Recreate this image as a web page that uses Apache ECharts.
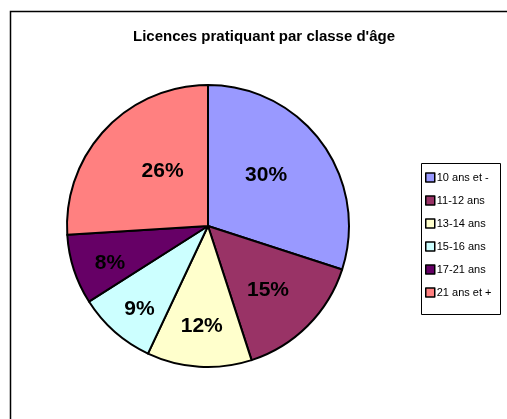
<!DOCTYPE html>
<html>
<head>
<meta charset="utf-8">
<script src="https://cdn.jsdelivr.net/npm/echarts@6/dist/echarts.min.js"></script>
<style>
  html, body { margin: 0; padding: 0; background: #fff; }
  #chart { width: 507px; height: 419px; }
</style>
</head>
<body>
<div id="chart"></div>
<script>
// données
const categories = ["10 ans et -", "11-12 ans", "13-14 ans", "15-16 ans", "17-21 ans", "21 ans et +"];
const percents = [30, 15, 12, 9, 8, 26];
const colors = ["#9999FF", "#993366", "#FFFFCC", "#CCFFFF", "#660066", "#FF8080"];

// placement des étiquettes façon Excel : distance au centre et petit décalage d'angle (degrés)
const labelRadius = [77, 88, 100, 108, 105, 71];
const labelShift = [-5, 2, 0, -2, -3, 7];
const pieCenter = [208, 226];

const chartDom = document.getElementById("chart");
const myChart = echarts.init(chartDom);

const pieData = categories.map(function (name, i) {
    return { name: name, value: percents[i], itemStyle: { color: colors[i] } };
});

const option = {
    animation: false,
    backgroundColor: "#fff",
    title: {
        text: "Licences pratiquant par classe d'âge",
        left: 259,
        top: 24,
        textAlign: "center",
        textStyle: {
            fontFamily: "Liberation Sans, Arial",
            fontSize: 15,
            fontWeight: "bold",
            color: "#000",
        },
    },
    graphic: [
        {
            type: "rect",
            shape: { x: 10.5, y: 11.5, width: 520, height: 420 },
            style: { fill: "none", stroke: "#000", lineWidth: 1.5 },
            silent: true,
        },
        {
            type: "rect",
            shape: { x: 421.5, y: 163.5, width: 79, height: 151 },
            style: { fill: "#fff", stroke: "#000", lineWidth: 1 },
            silent: true,
            z: 0,
        },
    ],
    legend: {
        orient: "vertical",
        left: 421,
        top: 165,
        padding: [6, 4, 6, 4],
        itemWidth: 9,
        itemHeight: 9,
        itemGap: 10,
        icon: "rect",
        data: categories,
        itemStyle: { borderColor: "#000", borderWidth: 1.5 },
        textStyle: {
            fontFamily: "Liberation Sans, Arial",
            fontSize: 11,
            color: "#000",
            padding: [0, 0, 0, -3],
            lineHeight: 13,
        },
    },
    series: [
        {
            type: "pie",
            center: pieCenter,
            radius: 141,
            startAngle: 90,
            clockwise: true,
            data: pieData,
            itemStyle: { borderColor: "#000", borderWidth: 2 },
            emphasis: { disabled: true },
            label: {
                show: true,
                position: "inner",
                formatter: "{c}%",
                fontFamily: "Liberation Sans, Arial",
                fontSize: 21,
                fontWeight: "bold",
                color: "#000",
            },
            labelLine: { show: false },
            labelLayout: function (params) {
                const r = params.labelRect;
                const dx = r.x + r.width / 2 - pieCenter[0];
                const dy = r.y + r.height / 2 - pieCenter[1];
                // angle écran, sens horaire depuis l'axe x
                const a = Math.atan2(dy, dx) + labelShift[params.dataIndex] * Math.PI / 180;
                const rad = labelRadius[params.dataIndex];
                return {
                    x: pieCenter[0] + rad * Math.cos(a),
                    y: pieCenter[1] + rad * Math.sin(a),
                };
            },
        },
    ],
};
myChart.setOption(option);
</script>
</body>
</html>
